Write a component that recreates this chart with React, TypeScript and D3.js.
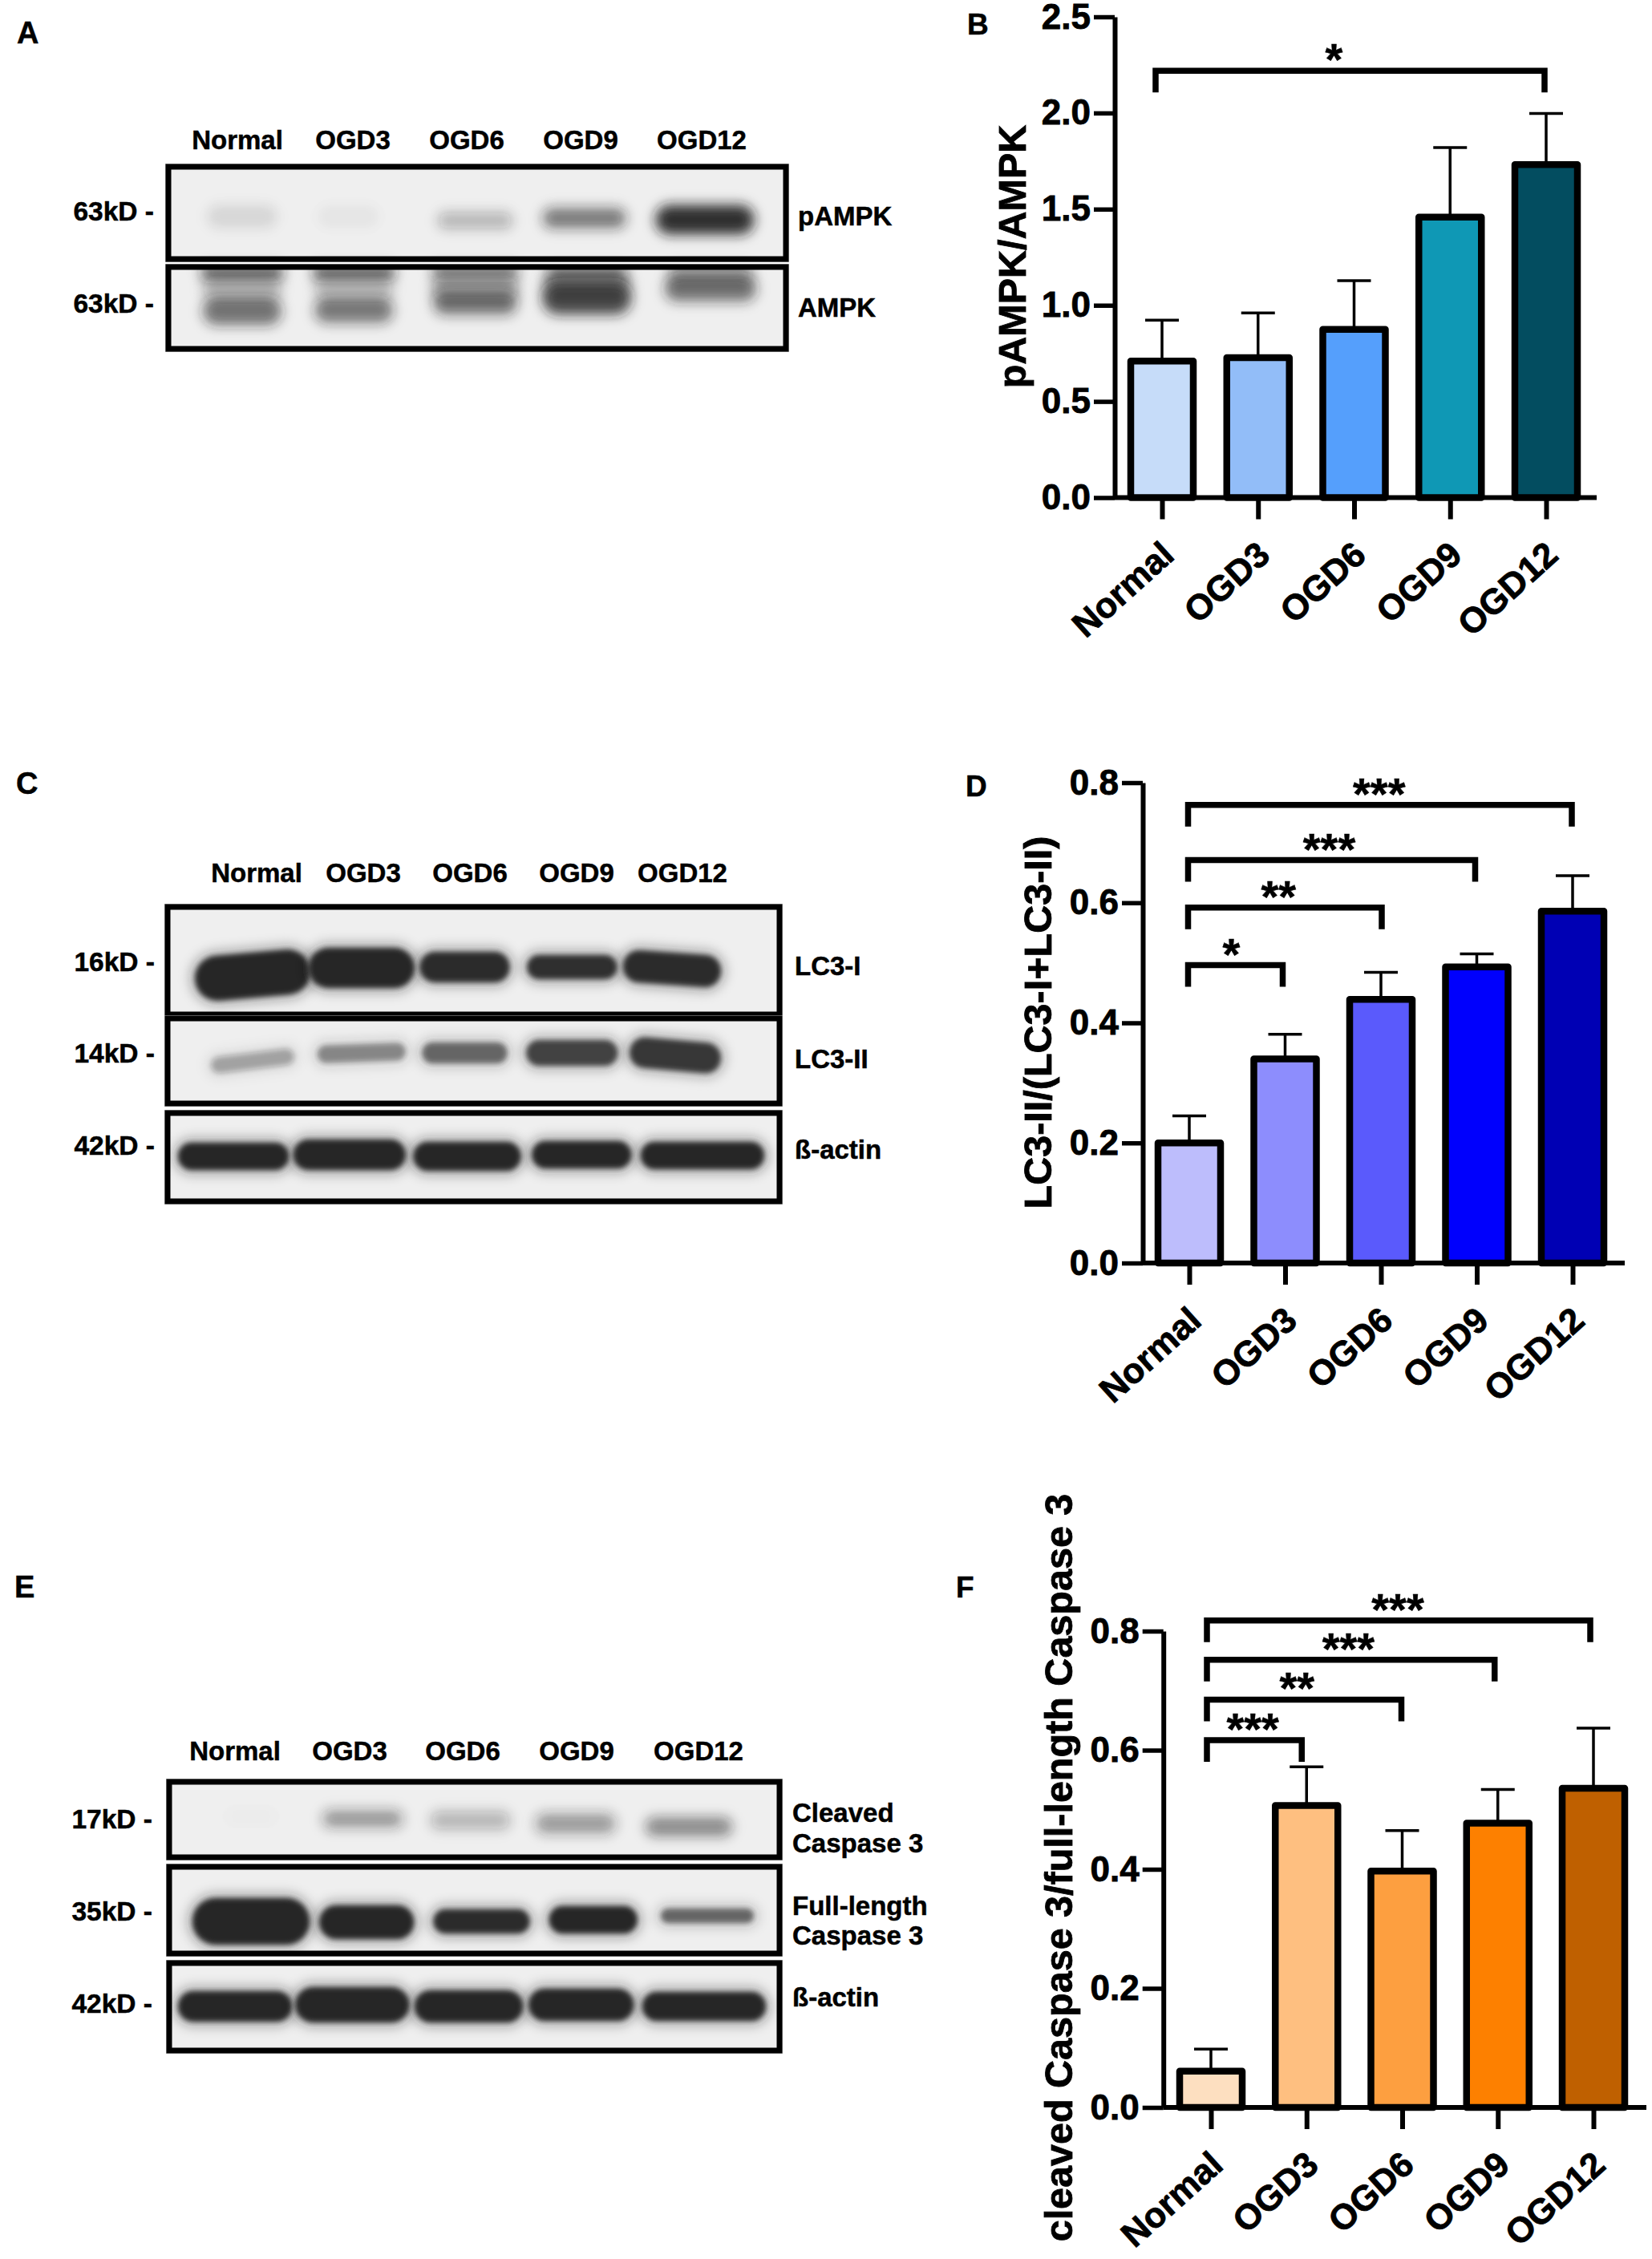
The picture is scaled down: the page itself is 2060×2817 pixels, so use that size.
import * as d3 from "d3";
import { useEffect, useRef } from "react";

const FONT = "'Liberation Sans', Arial, sans-serif";

// chart values
const categories = ["Normal", "OGD3", "OGD6", "OGD9", "OGD12"];

const pampkMeans = [0.71, 0.728, 0.875, 1.459, 1.732];
const pampkTops = [0.923, 0.96, 1.128, 1.82, 1.997];
const pampkColors = ["#c6dcf9", "#92bdf8", "#559ffc", "#0f98b5", "#034d60"];
const pampkTicks = [0, 0.5, 1, 1.5, 2, 2.5];
const pampkBrackets = [{ to: "OGD12", level: 2.22, label: "*", endShift: -2, labelShift: -20 }];

const lc3Means = [0.2, 0.34, 0.439, 0.493, 0.586];
const lc3Tops = [0.245, 0.381, 0.484, 0.515, 0.645];
const lc3Colors = ["#bdbdfc", "#8d8dfd", "#5a5afc", "#0000fd", "#0000b4"];
const lc3Ticks = [0, 0.2, 0.4, 0.6, 0.8];
const lc3Brackets = [
  { to: "OGD12", level: 0.763, label: "***", endShift: -1, labelShift: -1 },
  { to: "OGD9", level: 0.671, label: "***", endShift: -2, labelShift: -3 },
  { to: "OGD6", level: 0.592, label: "**", endShift: 1, labelShift: -8 },
  { to: "OGD3", level: 0.496, label: "*", endShift: -3, labelShift: -5 },
];

const caspMeans = [0.061, 0.507, 0.397, 0.4775, 0.536];
const caspTops = [0.098, 0.572, 0.465, 0.534, 0.637];
const caspColors = ["#fddfc0", "#febf80", "#fd9f40", "#fd8000", "#bf6000"];
const caspTicks = [0, 0.2, 0.4, 0.6, 0.8];
const caspBrackets = [
  { to: "OGD12", level: 0.818, label: "***", endShift: -4, labelShift: -1 },
  { to: "OGD9", level: 0.752, label: "***", endShift: -4, labelShift: -3 },
  { to: "OGD6", level: 0.685, label: "**", endShift: -1, labelShift: -9 },
  { to: "OGD3", level: 0.617, label: "***", endShift: -6, labelShift: -2 },
];

// blot band darkness, 0..1, one value per lane
const pampkBand = [0.08, 0.035, 0.22, 0.5, 0.95];
const ampkLowerBand = [0.55, 0.5, 0.5, 0.78, 0.55];
const ampkUpperBand = [0.7, 0.7, 0.55, 0.45, 0.25];
const ampkSmear = [0.22, 0.2, 0.3, 0.4, 0.2];
const lc3iBand = [1, 1, 0.97, 0.95, 0.97];
const lc3iiBand = [0.3, 0.45, 0.62, 0.82, 0.88];
const actinCBand = [1, 1, 1, 1, 1];
const cleavedBand = [0.01, 0.38, 0.22, 0.36, 0.42];
const fullBand = [1, 1, 0.97, 1, 0.62];
const actinEBand = [1, 1, 1, 1, 1];

type Row = {
  density: number[];
  y: number[];
  w: number[];
  h: number[];
  shift: number[];
  blur?: string;
  tilt?: number[];
};

type BlotPanel = {
  letter: string;
  letterPos: [number, number];
  laneRange: [number, number];
  labelX: number[];
  labelY: number;
  frames: [number, number][];
  frameX: [number, number];
  rows: Row[];
  kd: [string, number][];
  kdRight: number;
  names: [string, number][];
  nameX: number;
};

const blotA: BlotPanel = {
  letter: "A",
  letterPos: [21, 54],
  laneRange: [302, 883],
  labelX: [296, 440, 582, 724, 875],
  labelY: 186,
  frameX: [206, 984],
  frames: [
    [204, 327],
    [329, 439],
  ],
  rows: [
    { density: pampkBand, y: [270, 270, 275, 272, 274], w: [84, 72, 90, 100, 118], h: [26, 24, 18, 22, 32], shift: [0, -13, 0, -9, -4], blur: "url(#blurWide)" },
    { density: ampkSmear, y: [360, 360, 360, 354, 343], w: [95, 95, 105, 105, 105], h: [32, 32, 32, 32, 24], shift: [0, -6, 0, -6, 3], blur: "url(#blurWide)" },
    { density: ampkUpperBand, y: [340, 340, 339, 341, 343], w: [98, 98, 104, 94, 94], h: [13, 13, 13, 13, 11], shift: [0, -6, 0, -6, 3], blur: "url(#blurWide)" },
    { density: ampkLowerBand, y: [388, 387, 378, 372, 360], w: [94, 94, 100, 106, 110], h: [31, 28, 26, 36, 28], shift: [0, -6, 0, -6, 3], blur: "url(#blurWide)" },
  ],
  kd: [
    ["63kD -", 275],
    ["63kD -", 390],
  ],
  kdRight: 192,
  names: [
    ["pAMPK", 281],
    ["AMPK", 395],
  ],
  nameX: 995,
};

const blotC: BlotPanel = {
  letter: "C",
  letterPos: [20, 990],
  laneRange: [315, 838],
  labelX: [320, 453, 586, 719, 851],
  labelY: 1100,
  frameX: [205, 976],
  frames: [
    [1127, 1269],
    [1266, 1380],
    [1384, 1502],
  ],
  rows: [
    { density: lc3iBand, y: [1216, 1207, 1206, 1206, 1208], w: [144, 132, 112, 112, 122], h: [56, 50, 38, 30, 40], shift: [0, 5, 3, 6, 0], tilt: [-5, 0, 0, 0, 4] },
    { density: lc3iiBand, y: [1323, 1313, 1313, 1313, 1316], w: [104, 110, 106, 114, 114], h: [20, 22, 26, 32, 38], shift: [0, 5, 3, 6, 4], tilt: [-7, -2, 0, 0, 5] },
    { density: actinCBand, y: [1442, 1440, 1442, 1440, 1441], w: [138, 140, 134, 124, 154], h: [34, 38, 36, 34, 34], shift: [-24, -10, 6, 18, 38] },
  ],
  kd: [
    ["16kD -", 1211],
    ["14kD -", 1325],
    ["42kD -", 1440],
  ],
  kdRight: 193,
  names: [
    ["LC3-I", 1216],
    ["LC3-II", 1332],
    ["ß-actin", 1445],
  ],
  nameX: 991,
};

const blotE: BlotPanel = {
  letter: "E",
  letterPos: [18, 1992],
  laneRange: [313, 882],
  labelX: [293, 436, 577, 719, 871],
  labelY: 2195,
  frameX: [207, 976],
  frames: [
    [2218, 2320],
    [2324, 2440],
    [2444, 2561],
  ],
  rows: [
    { density: cleavedBand, y: [2265, 2268, 2270, 2274, 2278], w: [60, 96, 96, 96, 104], h: [16, 18, 20, 22, 20], shift: [0, -3, -11, -22, -23], blur: "url(#blurWide)" },
    { density: fullBand, y: [2396, 2397, 2396, 2394, 2389], w: [146, 118, 120, 110, 116], h: [58, 42, 30, 34, 18], shift: [0, 2, 3, 0, 0] },
    { density: actinEBand, y: [2502, 2500, 2502, 2500, 2502], w: [142, 142, 135, 131, 154], h: [38, 44, 40, 40, 36], shift: [-20, -16, -13, -15, -4] },
  ],
  kd: [
    ["17kD -", 2280],
    ["35kD -", 2395],
    ["42kD -", 2510],
  ],
  kdRight: 190,
  names: [
    ["Cleaved", 2272],
    ["Caspase 3", 2310],
    ["Full-length", 2388],
    ["Caspase 3", 2425],
    ["ß-actin", 2502],
  ],
  nameX: 988,
};

type BarPanel = {
  letter: string;
  letterPos: [number, number];
  title: string;
  titleX: number;
  titleY: number;
  means: number[];
  tops: number[];
  colors: string[];
  ticks: number[];
  brackets: typeof lc3Brackets;
  axisX: number;
  axisTop: number;
  axisZero: number;
  axisRight: number;
  firstX: number;
  lastX: number;
  startShift: number;
};

const barB: BarPanel = {
  letter: "B", letterPos: [1206, 43], title: "pAMPK/AMPK", titleX: 1279, titleY: 320,
  means: pampkMeans, tops: pampkTops, colors: pampkColors, ticks: pampkTicks, brackets: pampkBrackets,
  axisX: 1390, axisTop: 21, axisZero: 620.5, axisRight: 1991, firstX: 1449, lastX: 1928, startShift: -8,
};
const barD: BarPanel = {
  letter: "D", letterPos: [1204, 993], title: "LC3-II/(LC3-I+LC3-II)", titleX: 1311, titleY: 1275,
  means: lc3Means, tops: lc3Tops, colors: lc3Colors, ticks: lc3Ticks, brackets: lc3Brackets,
  axisX: 1425, axisTop: 976, axisZero: 1575, axisRight: 2026, firstX: 1483, lastX: 1961, startShift: -1.5,
};
const barF: BarPanel = {
  letter: "F", letterPos: [1192, 1992], title: "cleaved Caspase 3/full-length Caspase 3", titleX: 1337, titleY: 2329,
  means: caspMeans, tops: caspTops, colors: caspColors, ticks: caspTicks, brackets: caspBrackets,
  axisX: 1450.7, axisTop: 2034, axisZero: 2628, axisRight: 2053, firstX: 1510, lastX: 1987, startShift: -5,
};

const boldText = (g: any, txt: string, x: number, y: number, size: number, anchor = "start") =>
  g
    .append("text")
    .attr("x", x)
    .attr("y", y)
    .attr("font-family", FONT)
    .attr("font-weight", "bold")
    .attr("font-size", size)
    .attr("text-anchor", anchor)
    .attr("fill", "#000")
    .attr("stroke", "#000")
    .attr("stroke-width", 0.5)
    .text(txt);

function drawBlot(svg: any, p: BlotPanel, idx: number) {
  const g = svg.append("g");
  boldText(g, p.letter, p.letterPos[0], p.letterPos[1], 38);
  categories.forEach((c, i) => boldText(g, c, p.labelX[i], p.labelY, 33, "middle"));

  const lane = d3.scalePoint<string>().domain(categories).range(p.laneRange);
  const [fx0, fx1] = p.frameX;

  p.frames.forEach(([y0, y1]) => {
    g.append("rect").attr("x", fx0).attr("y", y0).attr("width", fx1 - fx0).attr("height", y1 - y0).attr("fill", "#efefef");
  });

  const clipId = `blot-clip-${idx}`;
  const clip = svg.select("defs").append("clipPath").attr("id", clipId);
  p.frames.forEach(([y0, y1]) => {
    clip.append("rect").attr("x", fx0).attr("y", y0).attr("width", fx1 - fx0).attr("height", y1 - y0);
  });
  const bands = g.append("g").attr("clip-path", `url(#${clipId})`);

  p.rows.forEach((r) => {
    r.density.forEach((d, i) => {
      const cx = (lane(categories[i]) as number) + r.shift[i];
      const tilt = r.tilt ? r.tilt[i] : 0;
      // soft halo first, then the band itself
      [
        { grow: 14, op: d * 0.28, blur: "url(#blurWide)" },
        { grow: 0, op: d, blur: r.blur || "url(#blur)" },
      ].forEach((layer) => {
        const w = r.w[i] + layer.grow;
        const h = r.h[i] + layer.grow;
        bands
          .append("rect")
          .attr("x", cx - w / 2)
          .attr("y", r.y[i] - h / 2)
          .attr("width", w)
          .attr("height", h)
          .attr("rx", Math.min(w, h) * 0.5)
          .attr("transform", `rotate(${tilt} ${cx} ${r.y[i]})`)
          .attr("fill", "#262626")
          .attr("fill-opacity", layer.op)
          .attr("filter", layer.blur);
      });
    });
  });

  p.frames.forEach(([y0, y1]) => {
    g.append("rect")
      .attr("x", fx0 + 0.5)
      .attr("y", y0 + 0.5)
      .attr("width", fx1 - fx0 - 1)
      .attr("height", y1 - y0 - 1)
      .attr("fill", "none")
      .attr("stroke", "#b0b0b0")
      .attr("stroke-width", 1);
    g.append("rect")
      .attr("x", fx0 + 4)
      .attr("y", y0 + 4)
      .attr("width", fx1 - fx0 - 8)
      .attr("height", y1 - y0 - 8)
      .attr("fill", "none")
      .attr("stroke", "#000")
      .attr("stroke-width", 7);
  });

  p.kd.forEach(([t, y]) => boldText(g, t, p.kdRight, y, 33.5, "end"));
  p.names.forEach(([t, y]) => boldText(g, t, p.nameX, y, 33));
}

function drawBars(svg: any, p: BarPanel) {
  const g = svg.append("g");
  const x = d3.scalePoint<string>().domain(categories).range([p.firstX, p.lastX]);
  const y = d3
    .scaleLinear()
    .domain([0, p.ticks[p.ticks.length - 1]])
    .range([p.axisZero, p.axisTop]);
  const barW = 78;

  boldText(g, p.letter, p.letterPos[0], p.letterPos[1], 37);

  // error bars sit behind the bars
  categories.forEach((c, i) => {
    const cx = x(c) as number;
    g.append("line").attr("x1", cx).attr("x2", cx).attr("y1", y(p.means[i])).attr("y2", y(p.tops[i])).attr("stroke", "#000").attr("stroke-width", 3.5);
    g.append("line").attr("x1", cx - 21).attr("x2", cx + 21).attr("y1", y(p.tops[i])).attr("y2", y(p.tops[i])).attr("stroke", "#000").attr("stroke-width", 3.5);
  });

  g.selectAll("rect.bar")
    .data(p.means)
    .join("rect")
    .attr("class", "bar")
    .attr("x", (_: number, i: number) => (x(categories[i]) as number) - barW / 2)
    .attr("y", (d: number) => y(d))
    .attr("width", barW)
    .attr("height", (d: number) => y(0) - y(d))
    .attr("fill", (_: number, i: number) => p.colors[i])
    .attr("stroke", "#000")
    .attr("stroke-width", 8.5)
    .attr("stroke-linejoin", "round");

  const yAxis = g
    .append("g")
    .attr("transform", `translate(${p.axisX},0)`)
    .call(d3.axisLeft(y).tickValues(p.ticks).tickFormat(d3.format(".1f") as any).tickSize(26).tickSizeOuter(0).tickPadding(4));
  yAxis.select(".domain").attr("stroke", "#000").attr("stroke-width", 6);
  yAxis.selectAll(".tick line").attr("stroke", "#000").attr("stroke-width", 5.5);
  yAxis
    .selectAll(".tick text")
    .attr("font-family", FONT)
    .attr("font-weight", "bold")
    .attr("font-size", 44)
    .attr("fill", "#000")
    .attr("stroke", "#000")
    .attr("stroke-width", 0.8);

  const xAxis = g
    .append("g")
    .attr("transform", `translate(0,${p.axisZero})`)
    .call(d3.axisBottom(x).tickSize(27).tickSizeOuter(0));
  xAxis.select(".domain").remove();
  xAxis.selectAll(".tick line").attr("stroke", "#000").attr("stroke-width", 6);
  xAxis
    .selectAll(".tick text")
    .attr("font-family", FONT)
    .attr("font-weight", "bold")
    .attr("font-size", 44)
    .attr("fill", "#000")
    .attr("stroke", "#000")
    .attr("stroke-width", 0.8)
    .attr("text-anchor", "end")
    .attr("dy", 0)
    .attr("transform", "translate(17,75) rotate(-42)")
    .attr("y", 0)
    .attr("x", 0);
  g.append("line").attr("x1", p.axisX).attr("x2", p.axisRight).attr("y1", p.axisZero).attr("y2", p.axisZero).attr("stroke", "#000").attr("stroke-width", 6);

  const x0 = p.firstX + p.startShift;
  const legLen = 27;
  p.brackets.forEach((b) => {
    const x1 = (x(b.to) as number) + b.endShift;
    const ly = y(b.level);
    g.append("path")
      .attr("d", `M${x0},${ly + legLen}V${ly}H${x1}V${ly + legLen}`)
      .attr("fill", "none")
      .attr("stroke", "#000")
      .attr("stroke-width", 7.5);
    boldText(g, b.label, (x0 + x1) / 2 + b.labelShift, ly - 26 + 31, 56, "middle");
  });

  boldText(g, p.title, 0, 0, 48.5, "middle").attr("x", null).attr("y", null).attr("transform", `translate(${p.titleX},${p.titleY}) rotate(-90)`).attr("stroke-width", 0.8);
}

export default function App() {
  const svgRef = useRef<SVGSVGElement | null>(null);

  useEffect(() => {
    const svg = d3.select(svgRef.current);
    svg.selectAll("*").remove();
    const defs = svg.append("defs");
    defs.append("filter").attr("id", "blur").attr("x", "-30%").attr("y", "-60%").attr("width", "160%").attr("height", "220%").append("feGaussianBlur").attr("stdDeviation", 3);
    defs.append("filter").attr("id", "blurWide").attr("x", "-40%").attr("y", "-120%").attr("width", "180%").attr("height", "340%").append("feGaussianBlur").attr("stdDeviation", 7);

    [blotA, blotC, blotE].forEach((p, i) => drawBlot(svg, p, i));
    [barB, barD, barF].forEach((p) => drawBars(svg, p));
  }, []);

  return (
    <svg
      ref={svgRef}
      width={2060}
      height={2817}
      style={{ position: "absolute", left: 0, top: 0, background: "#fff" }}
    />
  );
}
